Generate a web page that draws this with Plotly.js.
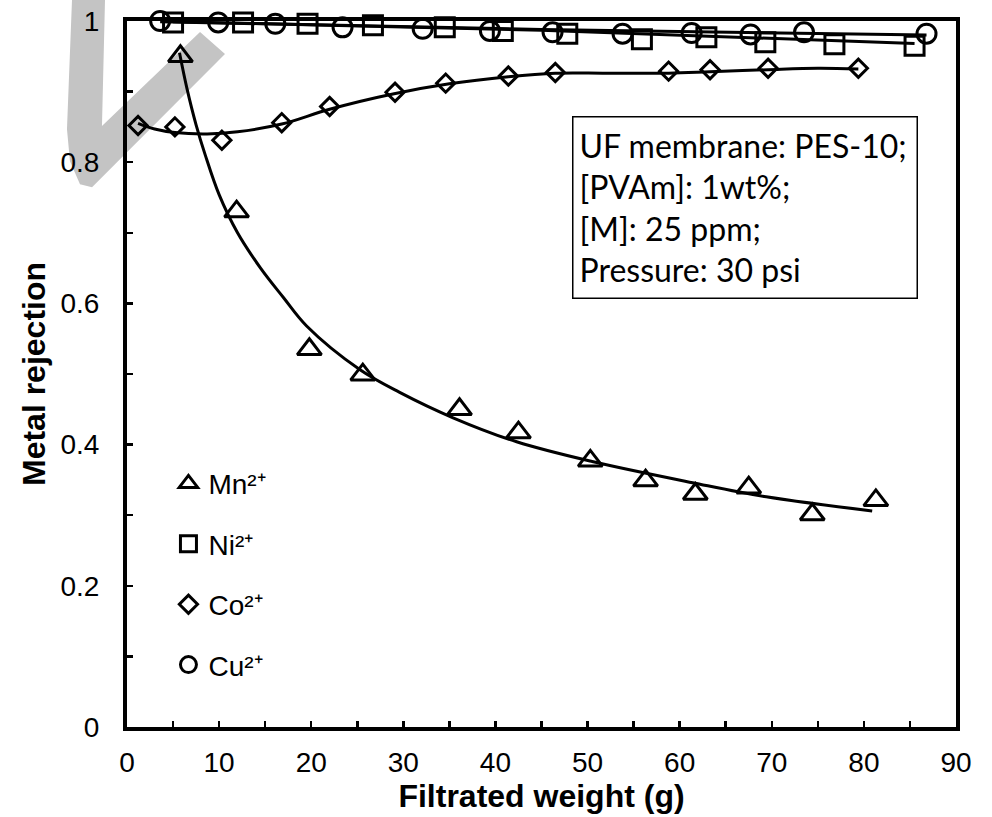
<!DOCTYPE html>
<html>
<head>
<meta charset="utf-8">
<script src="https://cdn.plot.ly/plotly-3.0.1.min.js"></script>
<style>html,body{margin:0;padding:0;background:#fff;}#chart{width:992px;height:817px;}</style>
</head>
<body>
<div id="chart"></div>
<script>
// ---- data ----
const mnX = [5.8, 11.9, 19.8, 25.6, 36.1, 42.5, 50.3, 56.3, 61.7, 67.5, 74.4, 81.3];
const mnY = [0.950, 0.730, 0.535, 0.499, 0.450, 0.417, 0.377, 0.349, 0.330, 0.339, 0.301, 0.321];

const niX = [5.0, 12.6, 19.6, 26.7, 34.5, 40.8, 47.8, 55.9, 62.9, 69.3, 76.8, 85.5];
const niY = [0.998, 0.998, 0.996, 0.994, 0.991, 0.986, 0.982, 0.974, 0.977, 0.970, 0.967, 0.965];

const coX = [1.2, 5.2, 10.3, 16.8, 22.0, 29.1, 34.6, 41.4, 46.5, 58.8, 63.3, 69.6, 79.4];
const coY = [0.852, 0.850, 0.831, 0.856, 0.879, 0.899, 0.912, 0.922, 0.927, 0.929, 0.931, 0.933, 0.933];

const cuX = [3.6, 9.9, 16.1, 23.4, 32.1, 39.4, 46.2, 53.8, 61.3, 67.7, 73.5, 86.8];
const cuY = [1.000, 0.998, 0.996, 0.991, 0.989, 0.986, 0.984, 0.982, 0.983, 0.981, 0.984, 0.982];

// fitted trend curves
const mnFitX = [5.7, 6.5, 7.5, 8.5, 10.0, 12.0, 14.5, 17.0, 19.5, 25.3, 29.6, 35.4, 42.3, 50.5, 61.4, 69.4, 80.9];
const mnFitY = [0.955, 0.905, 0.853, 0.810, 0.754, 0.700, 0.650, 0.608, 0.568, 0.506, 0.474, 0.438, 0.404, 0.376, 0.346, 0.326, 0.306];

const coFitX = [1.2, 3.0, 5.2, 8.7, 12.0, 16.8, 22.0, 29.0, 35.0, 41.4, 46.5, 52.0, 58.8, 63.3, 69.6, 75.0, 79.4];
const coFitY = [0.855, 0.847, 0.842, 0.840, 0.843, 0.854, 0.875, 0.897, 0.911, 0.921, 0.926, 0.926, 0.926, 0.928, 0.931, 0.933, 0.932];

const niFitX = [5.0, 45.0, 85.5];
const niFitY = [0.999, 0.987, 0.968];

const cuFitX = [3.6, 45.0, 86.8];
const cuFitY = [0.999, 0.988, 0.980];

const seriesNames = ['Mn²⁺', 'Ni²⁺', 'Co²⁺', 'Cu²⁺'];
const xTitle = 'Filtrated weight (g)';
const yTitle = 'Metal rejection';
const noteText = 'UF membrane: PES-10;<br>[PVAm]: 1wt%;<br>[M]: 25 ppm;<br>Pressure: 30 psi';

// ---- traces ----
const lineStyle = {color: '#000', width: 3};
function fit(x, y) {
  return {x: x, y: y, mode: 'lines', line: Object.assign({shape: 'spline', smoothing: 1}, lineStyle),
          showlegend: false, hoverinfo: 'skip', cliponaxis: false};
}
function pts(x, y, name, symbol, size, grp) {
  return {x: x, y: y, name: name, mode: 'markers', legendgroup: grp, cliponaxis: false,
          marker: {symbol: symbol, size: size, color: '#000', line: {color: '#000', width: 3}}};
}

const data = [
  fit(mnFitX, mnFitY),
  fit(coFitX, coFitY),
  fit(niFitX, niFitY),
  fit(cuFitX, cuFitY),
  pts(mnX, mnY, seriesNames[0], 'triangle-up-open', 21, 'a'),
  pts(niX, niY, seriesNames[1], 'square-open', 19, 'b'),
  pts(coX, coY, seriesNames[2], 'diamond-open', 14, 'c'),
  pts(cuX, cuY, seriesNames[3], 'circle-open', 19, 'd')
];

const axisFont = {family: 'Liberation Sans, Arial, sans-serif', size: 28, color: '#000'};
const titleFont = {family: 'Liberation Sans, Arial, sans-serif', size: 32, color: '#000'};

const layout = {
  width: 992, height: 817,
  margin: {l: 127, r: 36, t: 21, b: 90, pad: 0},
  paper_bgcolor: '#fff',
  plot_bgcolor: 'rgba(0,0,0,0)',
  showlegend: true,
  legend: {
    x: 0.05, y: 0.38, xanchor: 'left', yanchor: 'top',
    bgcolor: 'rgba(0,0,0,0)', borderwidth: 0,
    font: {family: 'Liberation Sans, Arial, sans-serif', size: 28, color: '#000'},
    tracegroupgap: 21, itemwidth: 30, itemsizing: 'trace'
  },
  xaxis: {
    range: [0, 90], tick0: 0, dtick: 10,
    ticks: 'inside', ticklen: 6, tickwidth: 2.5, tickcolor: '#000',
    showline: true, linewidth: 4, linecolor: '#000', mirror: true,
    showgrid: false, zeroline: false,
    tickfont: axisFont, ticklabelstandoff: 7,
    minor: {dtick: 5, ticks: 'inside', ticklen: 6, tickwidth: 2.5, tickcolor: '#000', showgrid: false},
    title: {text: '<b>' + xTitle + '</b>', font: titleFont, standoff: 1}
  },
  yaxis: {
    range: [0, 1], tick0: 0, dtick: 0.2,
    ticks: 'inside', ticklen: 6, tickwidth: 2.5, tickcolor: '#000',
    showline: true, linewidth: 4, linecolor: '#000', mirror: true,
    showgrid: false, zeroline: false,
    tickfont: axisFont, ticklabelstandoff: 18,
    minor: {dtick: 0.1, ticks: 'inside', ticklen: 6, tickwidth: 2.5, tickcolor: '#000', showgrid: false},
    title: {text: '<b>' + yTitle + '</b>', font: titleFont, standoff: 6}
  },
  shapes: [{
    type: 'path', xref: 'paper', yref: 'paper', layer: 'below',
    path: 'M -0.0663,1.0312 L -0.0265,1.0312 L -0.0302,0.8511 L 0.0881,0.9844 L 0.1182,0.9532 ' +
          'L -0.0422,0.7645 L -0.0567,0.7688 L -0.0688,0.8014 L -0.0724,0.8468 Z',
    fillcolor: '#c4c4c4', line: {width: 0}
  }],
  annotations: [{
    xref: 'paper', yref: 'paper', x: 0.537, y: 0.865, xanchor: 'left', yanchor: 'top',
    text: noteText, showarrow: false, align: 'left',
    width: 331, height: 168,
    font: {family: 'Lato, Carlito, sans-serif', size: 32, color: '#000'},
    bordercolor: '#000', borderwidth: 1.5, borderpad: 6, bgcolor: '#fff'
  }]
};

Plotly.newPlot('chart', data, layout, {displayModeBar: false, staticPlot: true});
</script>
</body>
</html>
